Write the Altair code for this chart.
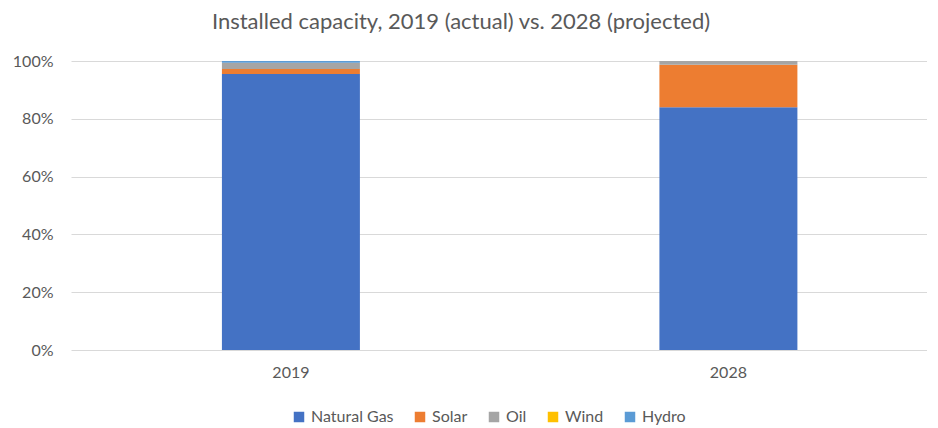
import altair as alt
import pandas as pd

years = ["2019", "2028"]
sources = ["Natural Gas", "Solar", "Oil", "Wind", "Hydro"]
share_2019 = [95.5, 1.7, 2.2, 0.0, 0.6]
share_2028 = [84.0, 14.7, 1.3, 0.0, 0.0]
colors = ["#4472C4", "#ED7D31", "#A5A5A5", "#FFC000", "#5B9BD5"]

rows = []
for y, vals in zip(years, [share_2019, share_2028]):
    for i, (s, v) in enumerate(zip(sources, vals)):
        rows.append({"year": y, "source": s, "value": v, "order": i})
df = pd.DataFrame(rows)

FONT = "Lato"
GRAY = "#595959"

chart = alt.Chart(df).mark_bar().encode(
    x=alt.X("year:N", title=None,
            scale=alt.Scale(paddingInner=0.6846, paddingOuter=0.3206, align=0.538),
            axis=alt.Axis(labelAngle=0, domain=False, ticks=False, labelPadding=14,
                          labelFont=FONT, labelFontSize=16, labelColor=GRAY)),
    y=alt.Y("value:Q", stack="normalize", title=None,
            scale=alt.Scale(domain=[0, 1]),
            axis=alt.Axis(format=".0%", values=[0, 0.2, 0.4, 0.6, 0.8, 1.0],
                          domain=False, ticks=False, labelPadding=18,
                          gridColor="#D9D9D9", labelFont=FONT, labelFontSize=16,
                          labelColor=GRAY)),
    color=alt.Color("source:N", scale=alt.Scale(domain=sources, range=colors),
                    legend=alt.Legend(title=None, orient="none", direction="horizontal",
                                      legendX=220, legendY=348, symbolType="square",
                                      symbolSize=110, symbolStrokeWidth=0,
                                      labelFont=FONT, labelFontSize=16, labelColor=GRAY,
                                      columnPadding=18, labelOffset=4)),
    order=alt.Order("order:Q"),
).properties(
    width=856,
    height=289,
    padding={"left": 63, "top": 53, "right": 0, "bottom": 76},
    autosize=alt.AutoSizeParams(type="none"),
    title=alt.TitleParams("Installed capacity, 2019 (actual) vs. 2028 (projected)",
                          font=FONT, fontSize=22, color=GRAY, fontWeight="normal",
                          anchor="middle", dx=-38, offset=19),
).configure_view(stroke=None)

chart.save("out.html", embed_options={"renderer": "svg", "actions": False})
